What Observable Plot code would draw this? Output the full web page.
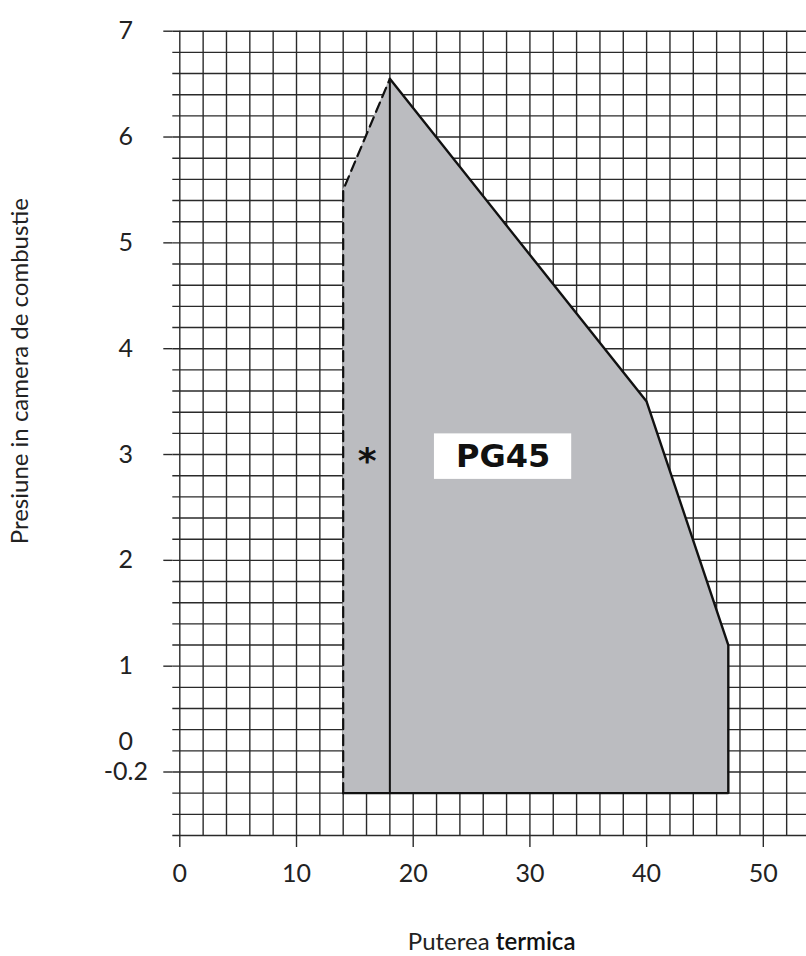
<!DOCTYPE html>
<html><head><meta charset="utf-8">
<script src="https://cdn.jsdelivr.net/npm/d3@7"></script>
<script src="https://cdn.jsdelivr.net/npm/@observablehq/plot@0.6"></script>
<style>body{margin:0;background:#fff;} #chart svg{display:block;}</style>
</head><body><div id="chart"></div>
<script>
// Tick / grid values
const xTickValues = [0, 10, 20, 30, 40, 50];
const xGridValues = [0, 2, 4, 6, 8, 10, 12, 14, 16, 18, 20, 22, 24, 26, 28, 30, 32, 34, 36, 38, 40, 42, 44, 46, 48, 50, 52];
const yMajorValues = [0, 1, 2, 3, 4, 5, 6, 7];
const yGridValues = [-0.6, -0.4, -0.2, 0, 0.2, 0.4, 0.6, 0.8, 1, 1.2, 1.4, 1.6, 1.8, 2, 2.2, 2.4, 2.6, 2.8, 3, 3.2, 3.4, 3.6, 3.8, 4, 4.2, 4.4, 4.6, 4.8, 5, 5.2, 5.4, 5.6, 5.8, 6, 6.2, 6.4, 6.6, 6.8, 7];
const yTickLabels = [
  {y: 7, label: "7"}, {y: 6, label: "6"}, {y: 5, label: "5"}, {y: 4, label: "4"},
  {y: 3, label: "3"}, {y: 2, label: "2"}, {y: 1, label: "1"},
  {y: 0.28, label: "0"}, {y: 0, label: "-0.2"}
];
// Working field of burner PG45
const baseY = -0.2;
const envelopeTop = [
  {x: 14, y: 5.5}, {x: 18, y: 6.55}, {x: 40, y: 3.5}, {x: 47, y: 1.2}
];
const dashedEdge = [
  {x: 14, y: -0.2}, {x: 14, y: 5.5}, {x: 18, y: 6.55}
];
const solidEdge = [
  {x: 18, y: 6.55}, {x: 40, y: 3.5}, {x: 47, y: 1.2}, {x: 47, y: -0.2}, {x: 14, y: -0.2}
];
const dividerX = [18];
const dividerTop = 6.55;
const modelLabel = [{x: 27.7, y: 2.98, text: "PG45"}];
const starLabel = [{x: 16.05, y: 2.98, text: "*"}];
const xTitleParts = ["Puterea", "termica"];
const yTitle = "Presiune in camera de combustie";

const gridColor = "#2a2a2a";
const font = "Lato, 'Open Sans', sans-serif";

const chart = Plot.plot({
  width: 806,
  height: 956,
  marginTop: 30.7,
  marginBottom: 121,
  marginLeft: 172.3,
  marginRight: 0,
  style: {fontFamily: font, background: "#fff"},
  x: {domain: [-0.6, 53.7]},
  y: {domain: [-0.6, 7]},
  marks: [
    Plot.gridY(yGridValues, {stroke: gridColor, strokeOpacity: 1, strokeWidth: 1.4}),
    Plot.gridX(xGridValues, {stroke: gridColor, strokeOpacity: 1, strokeWidth: 1.4}),
    Plot.axisY(yMajorValues, {tickSize: 9, stroke: gridColor, strokeWidth: 1.4, tickFormat: () => "", label: null}),
    Plot.axisX(xTickValues, {tickSize: 12, stroke: gridColor, strokeWidth: 1.4, tickFormat: () => "", label: null}),
    Plot.areaY(envelopeTop, {x: "x", y1: () => baseY, y2: "y", fill: "#bbbcc0"}),
    Plot.ruleX(dividerX, {y1: baseY, y2: dividerTop, stroke: "#111", strokeWidth: 2}),
    Plot.line(dashedEdge, {x: "x", y: "y", stroke: "#111", strokeWidth: 2.2, strokeDasharray: "10,6"}),
    Plot.line(solidEdge, {x: "x", y: "y", stroke: "#111", strokeWidth: 2.4, strokeLinejoin: "miter"}),
    Plot.rect(modelLabel, {x1: d => d.x - 5.88, x2: d => d.x + 5.88, y1: d => d.y - 0.215, y2: d => d.y + 0.215, fill: "#fff"}),
    Plot.text(modelLabel, {x: "x", y: "y", text: "text", fontFamily: "'DejaVu Sans', sans-serif", fontWeight: "bold", fontSize: 32, fill: "#111", lineAnchor: "middle"}),
    Plot.text(starLabel, {x: "x", y: "y", text: "text", fontFamily: "'DejaVu Sans', sans-serif", fontWeight: "bold", fontSize: 36, fill: "#111", lineAnchor: "middle", dy: 5}),
    Plot.text(yTickLabels, {y: "y", text: "label", frameAnchor: "left", dx: -47, textAnchor: "middle", lineAnchor: "middle", fontSize: 25, fill: "#222"}),
    Plot.text(xTickValues, {x: d => d, text: d => String(d), frameAnchor: "bottom", dy: 38, lineAnchor: "middle", fontSize: 25, fill: "#222"}),
    Plot.text([yTitle], {text: d => d, frameAnchor: "top-left", dx: -152, dy: 340, rotate: -90, textAnchor: "middle", lineAnchor: "middle", fontSize: 24, fill: "#222"}),
    Plot.text([xTitleParts], {text: d => d.join(" "), frameAnchor: "bottom", dx: 2, dy: 107, lineAnchor: "middle", fontSize: 24, fill: "#222", className: "xtitle"})
  ]
});
// Render the second word of the x title a little heavier, as in the reference
d3.select(chart).selectAll("g.xtitle text").each(function(d, i) {
  const t = d3.select(this);
  t.text(null);
  t.append("tspan").text(xTitleParts[0] + " ");
  t.append("tspan").attr("font-weight", "600").attr("fill", "#111").text(xTitleParts[1]);
});
document.getElementById("chart").appendChild(chart);
</script>
</body></html>
